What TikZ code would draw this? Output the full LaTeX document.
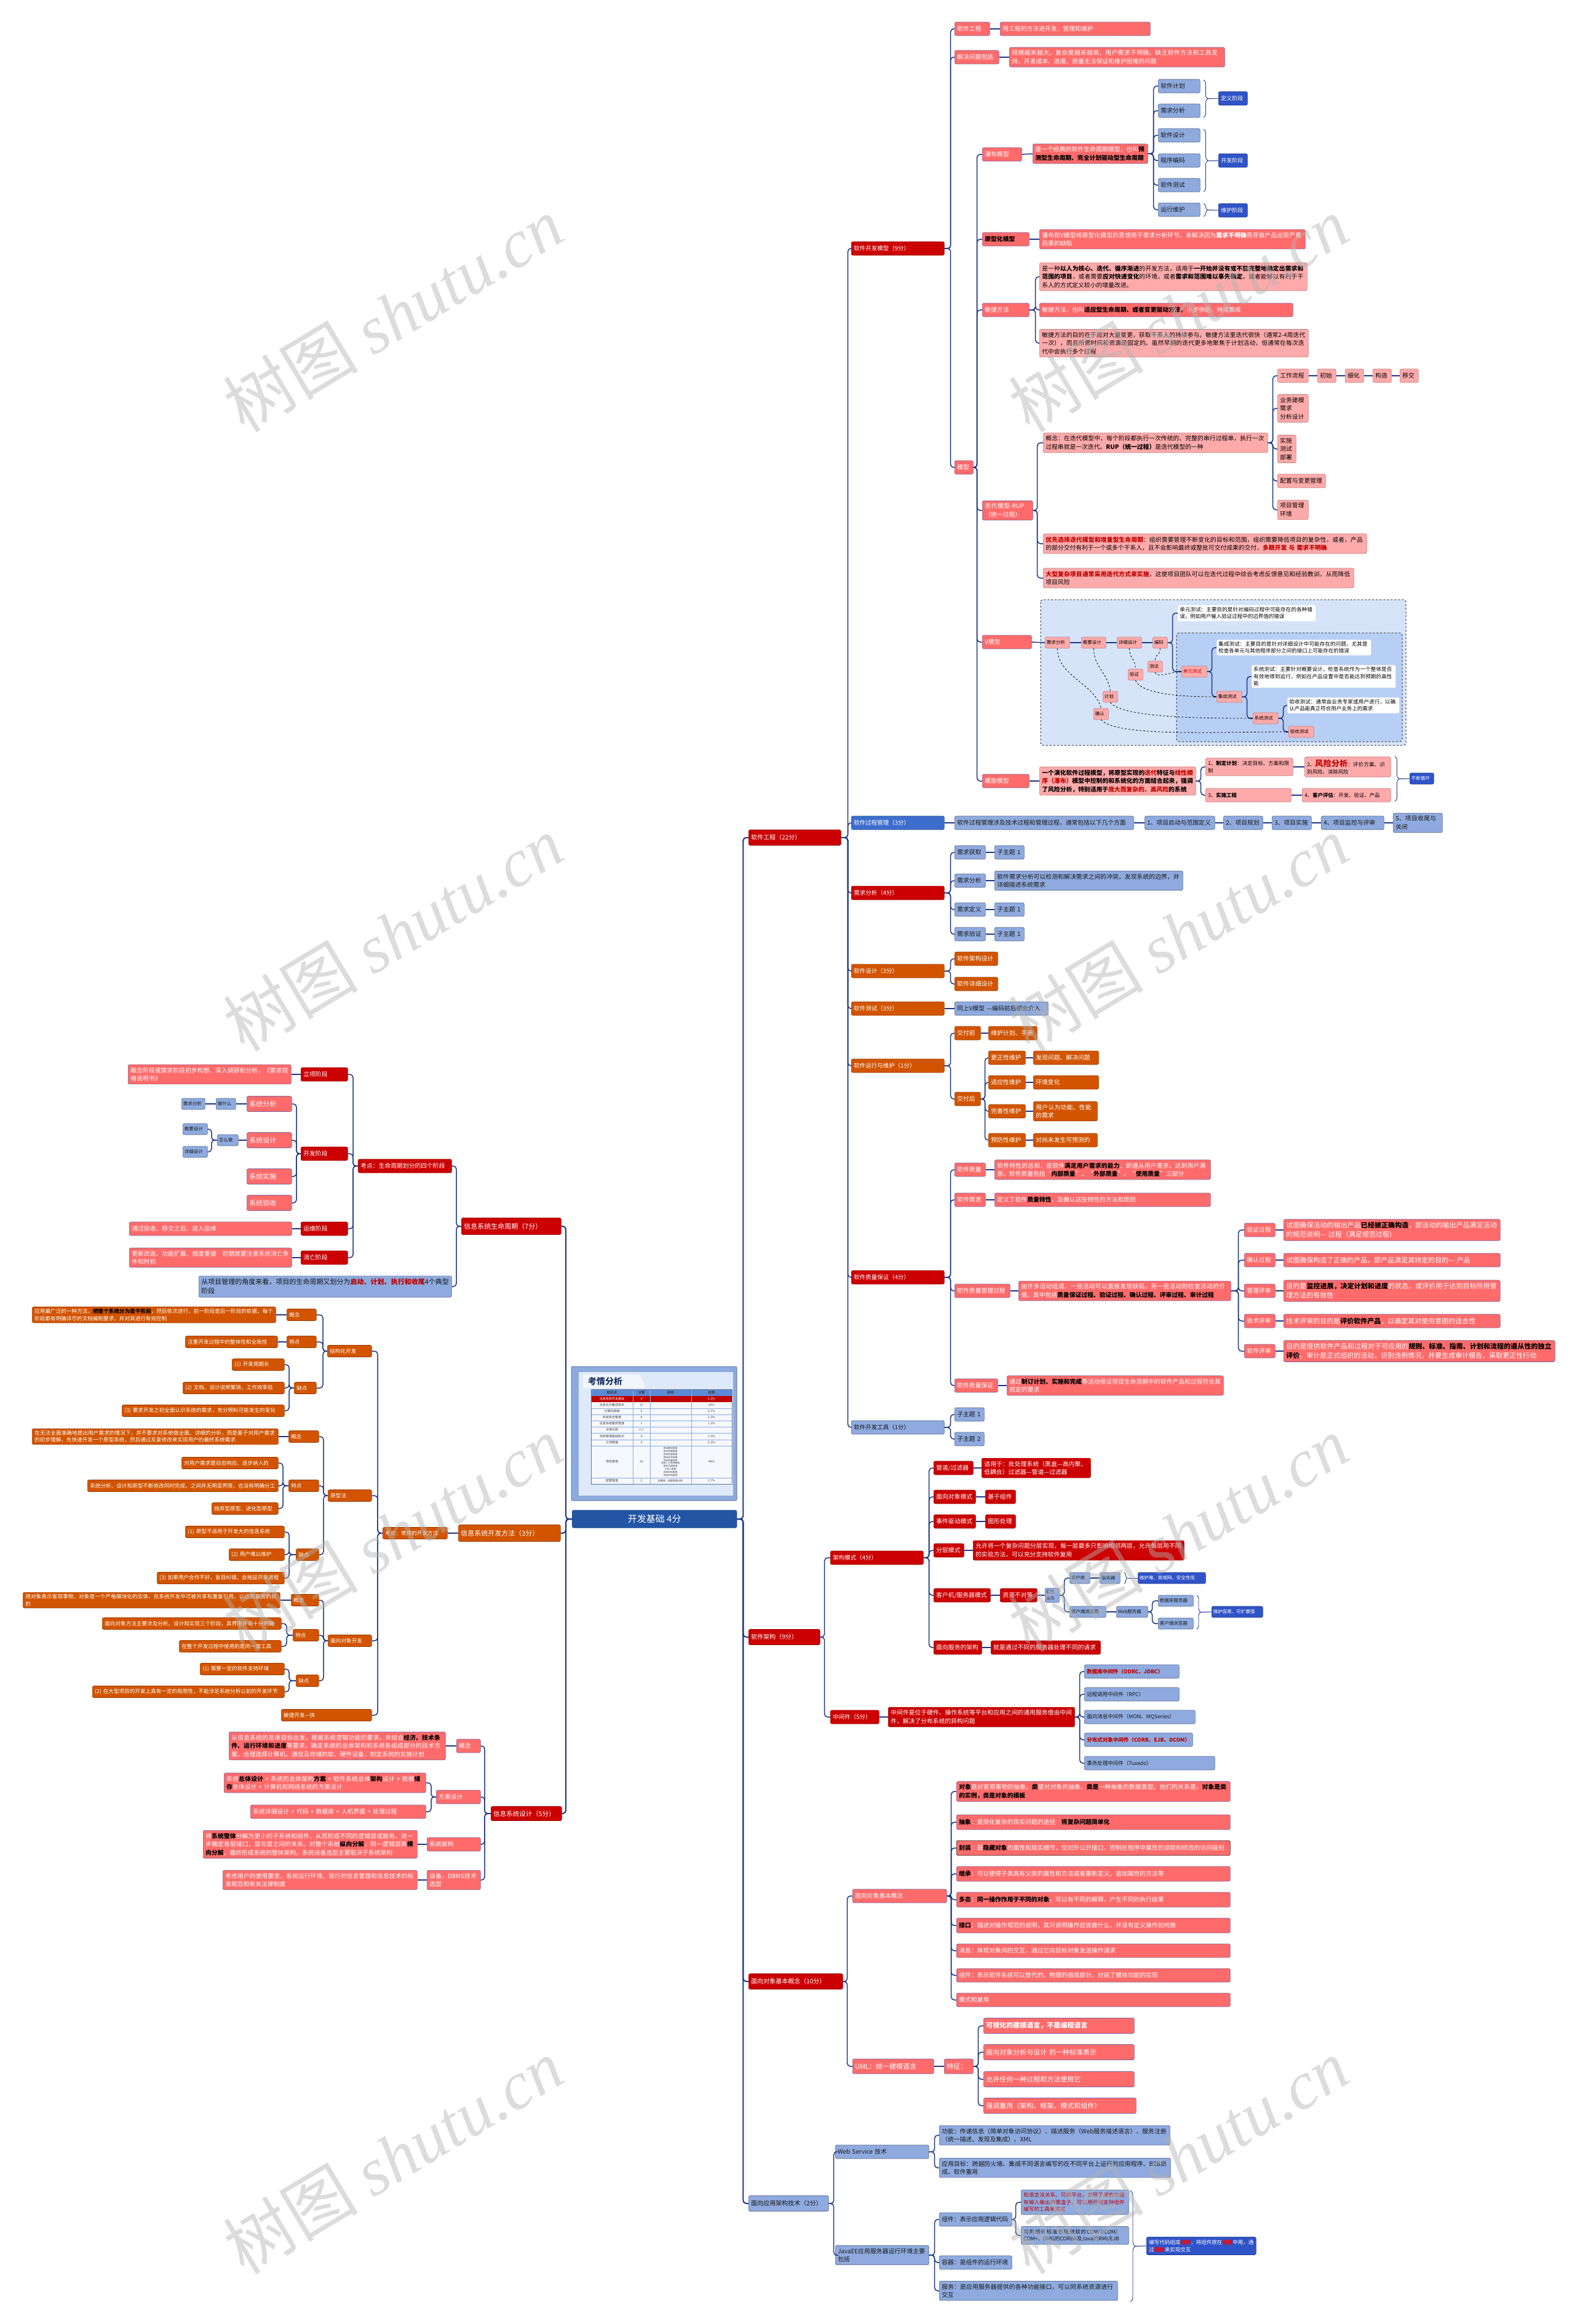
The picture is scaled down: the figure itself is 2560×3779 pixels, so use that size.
\documentclass[tikz,border=0pt]{standalone}
\usepackage{fontspec}
\setmainfont{Noto Sans CJK SC}
\newfontfamily\wmlatin{Liberation Serif}
\usetikzlibrary{arrows.meta, decorations.pathreplacing}
\XeTeXlinebreaklocale "zh"
\XeTeXlinebreakskip=0pt plus 1pt

\definecolor{dred}{RGB}{204,0,0}
\definecolor{salm}{RGB}{255,107,107}
\definecolor{salmb}{RGB}{128,100,160}
\definecolor{pnk}{RGB}{255,170,170}
\definecolor{lblue}{RGB}{142,170,222}
\definecolor{dblue}{RGB}{47,84,200}
\definecolor{pblue}{RGB}{61,110,205}
\definecolor{orng}{RGB}{210,84,0}
\definecolor{navy}{RGB}{35,85,165}
\definecolor{linec}{RGB}{30,55,135}
\definecolor{hred}{RGB}{192,0,0}
\definecolor{vfa}{RGB}{214,228,250}
\definecolor{vfb}{RGB}{184,207,245}
\definecolor{kqf}{RGB}{140,170,222}
\definecolor{kqi}{RGB}{222,233,249}
\definecolor{kqt}{RGB}{31,56,100}
\definecolor{thead}{RGB}{91,139,214}

\newcommand{\kb}[1]{\textbf{\color{black}#1}}
\newcommand{\kr}[1]{\textbf{\color{hred}#1}}

\tikzset{
  nb/.style={rounded corners=2.5pt, anchor=west, align=left, inner xsep=4pt, inner ysep=4.5pt,
    minimum height=22pt, line width=0.7pt, font=\fontsize{9.8}{13.5}\selectfont},
  w/.style={text width=#1-8},
  ft84/.style={font=\fontsize{8.4}{11.5}\selectfont},
  ft85/.style={font=\fontsize{8.5}{11.5}\selectfont},
  ft9/.style={font=\fontsize{9}{12}\selectfont},
  ft95/.style={font=\fontsize{9.5}{13}\selectfont},
  ft10/.style={font=\fontsize{10}{13.5}\selectfont},
  ft105/.style={font=\fontsize{10.5}{14}\selectfont},
  ft11/.style={font=\fontsize{11}{15}\selectfont},
  sm/.style={font=\fontsize{7.5}{10}\selectfont, inner xsep=2.5pt, inner ysep=3pt, minimum height=18pt},
  redbox/.style={nb, fill=dred, draw=dred!75!black, text=white},
  salbox/.style={nb, fill=salm, draw=salmb, text=white},
  pinkbox/.style={nb, fill=pnk, draw=pnk!75!black, text=black},
  bluebox/.style={nb, fill=lblue, draw=lblue!65!black, text=black!90},
  dbluebox/.style={nb, fill=dblue, draw=dblue!70!black, text=white},
  pbluebox/.style={nb, fill=pblue, draw=pblue!70!black, text=white},
  orabox/.style={nb, fill=orng, draw=orng!75!black, text=white},
  oraleft/.style={orabox, font=\fontsize{8.6}{11.5}\selectfont, minimum height=19pt, inner ysep=3pt},
  whitebox/.style={nb, fill=white, draw=none, text=black, font=\fontsize{8.5}{11.5}\selectfont,
    inner xsep=3pt, inner ysep=3pt},
  rootbox/.style={rounded corners=3pt, anchor=west, fill=navy, draw=navy!70!black, text=white,
    minimum width=268pt, minimum height=29pt, inner sep=0pt, font=\fontsize{15}{17}\selectfont},
  ln/.style={draw=linec, line width=1.5pt, rounded corners=5pt},
  lk/.style={to path={-- ++(#1,0) |- (\tikztotarget)}},
  lk/.default=8,
  brc/.style={draw=linec, line width=0.9pt, decorate, decoration={brace, amplitude=7pt}},
  vdash/.style={draw=black, dashed, line width=0.8pt},
  vframe/.style={draw=black!80, dashed, line width=1pt, rounded corners=4pt},
  tcell/.style={font=\fontsize{5}{6}\selectfont, inner sep=0pt, text=black!75},
  wmark/.style={rotate=31, text=black!30, opacity=0.45, inner sep=0pt, font=\fontsize{110}{110}\selectfont},
}

\begin{document}
\begin{tikzpicture}[x=1pt,y=-1pt]
\fill[white] (0,0) rectangle (2560,3779);
\useasboundingbox (0,0) rectangle (2560,3779);

% V model frames
\draw[vframe, fill=vfa] (1692,975) rectangle (2286,1212);
\draw[vframe, fill=vfb] (1913,1029) rectangle (2280,1206);

% exam table picture
\draw[draw=kqf!75!black, fill=kqf, line width=1pt, rounded corners=2pt] (929,2222) rectangle (1198,2440);
\fill[kqi] (941,2231) rectangle (1192,2432);
\fill[white, opacity=.6] (948,2235) -- (1040,2235) -- (1050,2257) -- (948,2257) -- cycle;
\node[anchor=west, inner sep=0pt, text=kqt, font=\fontsize{14}{16}\selectfont\bfseries] (kqtitle) at (956,2246) {考情分析};
\fill[thead] (961,2259) rectangle (1190,2270);
\fill[red!75!black] (961,2270) rectangle (1190,2280);
\fill[white!70!kqi] (961,2280) rectangle (1190,2413);
\foreach \yy in {2290,2300,2310,2320,2330,2341,2351,2403}
  \draw[kqf, line width=0.4pt] (961,\yy) -- (1190,\yy);
\foreach \xx in {1029,1057,1124}
  \draw[kqf, line width=0.4pt] (\xx,2259) -- (\xx,2413);
\draw[kqf!70!black, line width=0.5pt] (961,2259) rectangle (1190,2413);
\node[tcell, font=\fontsize{5.5}{6}\selectfont\bfseries] (hk) at (995,2264.5) {知识点};
\node[tcell, font=\fontsize{5.5}{6}\selectfont\bfseries] (hs) at (1043,2264.5) {分数};
\node[tcell, font=\fontsize{5.5}{6}\selectfont\bfseries] (hx) at (1090,2264.5) {说明};
\node[tcell, font=\fontsize{5.5}{6}\selectfont\bfseries] (hp) at (1157,2264.5) {比例};
\node[tcell, text=white] (tk1) at (995,2275) {信息系统开发基础};
\node[tcell, text=white] (ts1) at (1043,2275) {4};
\node[tcell, text=white] (tp1) at (1157,2275) {5.3\%};
\foreach \yy/\cA/\cB/\cC [count=\i from 2] in {2285/信息化与集成技术/15/20\%, 2295/计算机网络/5/6.7\%,
    2305/系统安全管理/4/5.3\%, 2315/信息系统服务管理/1/1.3\%, 2325/法律法规/0-1/{},
    2336/项目管理基础知识/4/5.3\%, 2346/立项管理/4/5.3\%, 2377/项目管理/36/48\%, 2408/配置管理/2/2.7\%} {
  \node[tcell] (tk\i) at (995,\yy) {\cA};
  \node[tcell] (ts\i) at (1043,\yy) {\cB};
  \node[tcell] (tp\i) at (1157,\yy) {\cC};
}
\node[tcell, align=center, font=\fontsize{3.8}{4.9}\selectfont] (tx9) at (1090,2377)
  {项目整体管理\\项目范围管理\\项目进度管理\\项目成本管理\\项目质量管理\\项目人力资源管理\\项目沟通管理\\干系人管理\\项目风险管理\\项目采购管理};
\node[tcell, font=\fontsize{4}{5}\selectfont] (tx10) at (1090,2408) {配置库、配置管理过程};

% root
\node[rootbox] (root) at (930,2470) {开发基础 4分};

% right first level
\node[redbox, ft10, w=150, minimum height=25pt] (se) at (1217,1362) {软件工程（22分）};
\node[redbox, ft10, w=116, minimum height=25pt] (arch) at (1217,2662) {软件架构（9分）};
\node[redbox, ft10, w=153, minimum height=25pt] (oo) at (1217,3222) {面向对象基本概念（10分）};
\node[bluebox, ft10, w=130, minimum height=25pt] (app) at (1217,3583) {面向应用架构技术（2分）};

% software engineering
\node[redbox, ft95, w=151] (sdm) at (1384,404) {软件开发模型（9分）};
\node[pbluebox, ft95, w=151] (spm) at (1384,1338) {软件过程管理（3分）};
\node[redbox, ft95, w=151] (ra) at (1384,1452) {需求分析（4分）};
\node[orabox, ft95, w=151] (sd) at (1384,1579) {软件设计（3分）};
\node[orabox, ft95, w=151] (st) at (1384,1640) {软件测试（3分）};
\node[orabox, ft95, w=151] (som) at (1384,1733) {软件运行与维护（1分）};
\node[redbox, ft95, w=151] (sqa) at (1384,2077) {软件质量保证（4分）};
\node[bluebox, ft95, w=151] (sdt) at (1384,2321) {软件开发工具（1分）};

\node[salbox, w=57] (a1) at (1552,47) {软件工程};
\node[salbox, w=244] (a1t) at (1626,47) {用工程的方法进开发、管理和维护};
\node[salbox, w=72] (a2) at (1552,93) {解决问题包括};
\node[salbox, w=350] (a2t) at (1641,93) {规模越来越大，复杂度越来越高，用户需求不明确，缺乏软件方法和工具支持，开发成本、进度、质量无法保证和维护困难的问题};
\node[salbox, w=30] (mx) at (1552,760) {模型};

\node[salbox, w=64] (wf) at (1597,251) {瀑布模型};
\node[salbox, w=76] (pt) at (1597,389) {\kb{原型化模型}};
\node[salbox, w=76] (ag) at (1597,504) {敏捷方法};
\node[salbox, w=82] (it) at (1597,830) {迭代模型-RUP（统一过程）};
\node[salbox, w=80] (vm) at (1597,1044) {V模型};
\node[salbox, w=76] (sp) at (1597,1270) {螺旋模型};

% waterfall
\node[salbox, w=187] (wft) at (1679,250) {是一个经典的软件生命周期模型，也叫\kb{预测型生命周期、完全计划驱动型生命周期}};
\foreach \n/\yy/\t in {w1/140/软件计划, w2/180/需求分析, w3/220/软件设计, w4/261/程序编码, w5/301/软件测试, w6/341/运行维护}
  \node[bluebox, w=68] (\n) at (1883,\yy) {\t};
\node[dbluebox, ft9, w=47] (d1) at (1981,160) {定义阶段};
\node[dbluebox, ft9, w=47] (d2) at (1981,261) {开发阶段};
\node[dbluebox, ft9, w=47] (d3) at (1981,342) {维护阶段};

% prototype, agile
\node[salbox, w=432] (ptt) at (1690,389) {瀑布和V模型将原型化模型的思想用于需求分析环节，来解决因为\textbf{需求不明确}而导致产品出现严重后果的缺陷};
\node[pinkbox, w=435] (ag1) at (1690,450) {是一种\textbf{以人为核心、迭代、循序渐进}的开发方法，适用于\textbf{一开始并没有或不能完整地确定出需求和范围的项目}，或者需要\textbf{应对快速变化}的环境，或者\textbf{需求和范围难以事先确定}，或者能够以有利于干系人的方式定义较小的增量改进。};
\node[salbox, w=412] (ag2) at (1690,504) {敏捷方法，也叫\kb{适应型生命周期、或者变更驱动方法。}小步快跑、持续集成};
\node[pinkbox, w=437] (ag3) at (1690,558) {敏捷方法的目的在于应对大量变更，获取干系人的持续参与。敏捷方法里迭代很快（通常2-4周迭代一次），而且所需时间和资源是固定的。虽然早期的迭代更多地聚焦于计划活动，但通常在每次迭代中会执行多个过程};

% iterative RUP
\node[pinkbox, w=365] (it1) at (1696,720) {概念：在迭代模型中，每个阶段都执行一次传统的、完整的串行过程串，执行一次过程串就是一次迭代。\textbf{RUP（统一过程）}是迭代模型的一种};
\node[pinkbox, w=526] (it2) at (1696,884) {\kr{优先选择迭代模型和增量型生命周期}：组织需要管理不断变化的目标和范围，组织需要降低项目的复杂性，或者，产品的部分交付有利于一个或多个干系人，且不会影响最终或整批可交付成果的交付，\kr{多期开发 与 需求不明确}};
\node[pinkbox, w=505] (it3) at (1696,940) {\kr{大型复杂项目通常采用迭代方式来实施}，这使项目团队可以在迭代过程中综合考虑反馈意见和经验教训，从而降低项目风险};
\node[pinkbox, w=50] (r1) at (2077,611) {工作流程};
\node[pinkbox, w=30] (r1a) at (2142,611) {初始};
\node[pinkbox, w=30] (r1b) at (2187,611) {细化};
\node[pinkbox, w=30] (r1c) at (2232,611) {构造};
\node[pinkbox, w=30] (r1d) at (2276,611) {移交};
\node[pinkbox, w=50] (r2) at (2077,664) {业务建模\\需求\\分析设计};
\node[pinkbox, w=30] (r3) at (2077,730) {实施\\测试\\部署};
\node[pinkbox, w=78] (r4) at (2077,782) {配置与变更管理};
\node[pinkbox, w=50] (r5) at (2077,829) {项目管理\\环境};

% V model
\node[pinkbox, sm, w=43] (v1) at (1699,1045) {需求分析};
\node[pinkbox, sm, w=43] (v2) at (1758,1045) {概要设计};
\node[pinkbox, sm, w=43] (v3) at (1816,1045) {详细设计};
\node[pinkbox, sm, w=27] (v4) at (1874,1045) {编码};
\node[whitebox, w=226] (vt1) at (1915,997) {单元测试：主要目的是针对编码过程中可能存在的各种错误，例如用户输入验证过程中的边界值的错误};
\node[whitebox, w=253] (vt2) at (1978,1053) {集成测试：主要目的是针对详细设计中可能存在的问题，尤其是检查各单元与其他程序部分之间的接口上可能存在的错误};
\node[whitebox, w=236] (vt3) at (2035,1100) {系统测试：主要针对概要设计，检查系统作为一个整体是否有效地得到运行，例如在产品设置中是否能达到预期的高性能};
\node[whitebox, w=184] (vt4) at (2093,1147) {验收测试：通常由业务专家或用户进行，以确认产品能真正符合用户业务上的需求};
\node[pinkbox, sm, w=44, text=hred] (t1) at (1921,1092) {单元测试};
\node[pinkbox, sm, w=44] (t2) at (1978,1133) {集成测试};
\node[pinkbox, sm, w=44] (t3) at (2037,1168) {系统测试};
\node[pinkbox, sm, w=44] (t4) at (2095,1190) {验收测试};
\node[pinkbox, sm, w=27] (va) at (1866,1084) {测试};
\node[pinkbox, sm, w=27] (vb) at (1834,1097) {验证};
\node[pinkbox, sm, w=27] (vc) at (1793,1133) {计划};
\node[pinkbox, sm, w=27] (vd) at (1778,1161) {确认};

% spiral
\node[pinkbox, w=254] (spt) at (1690,1270) {\textbf{一个演化软件过程模型，将原型实现的\kr{迭代}特征与\kr{线性顺序（瀑布）}模型中控制的和系统化的方面结合起来，强调了风险分析，特别适用于\kr{庞大而复杂的、高风险}的系统}};
\node[pinkbox, ft84, w=142] (sp1) at (1960,1247) {1、\textbf{制定计划}：决定目标、方案和限制};
\node[pinkbox, ft84, w=140] (sp2) at (2121,1247) {2、\kr{\fontsize{13}{14}\selectfont 风险分析}：评价方案、识别风险、消除风险};
\node[pinkbox, ft84, w=139] (sp3) at (1960,1293) {3、\textbf{实施工程}};
\node[pinkbox, ft84, w=144] (sp4) at (2117,1293) {4、\textbf{客户评估}：开发、验证、产品};
\node[dbluebox, sm, w=42] (sloop) at (2292,1266) {不断循环};

% process management
\node[bluebox, w=291] (p0) at (1552,1338) {软件过程管理涉及技术过程和管理过程，通常包括以下几个方面};
\node[bluebox, w=114] (p1) at (1861,1338) {1、项目启动与范围定义};
\node[bluebox, w=64] (p2) at (1989,1338) {2、项目规划};
\node[bluebox, w=64] (p3) at (2068,1338) {3、项目实施};
\node[bluebox, w=102] (p4) at (2148,1338) {4、项目监控与评审};
\node[bluebox, w=80] (p5) at (2265,1338) {5、项目收尾与关闭};

% requirements
\node[bluebox, w=50] (q1) at (1552,1386) {需求获取};
\node[bluebox, w=48] (q1a) at (1617,1386) {子主题 1};
\node[bluebox, w=50] (q2) at (1552,1432) {需求分析};
\node[bluebox, w=306] (q2a) at (1617,1432) {软件需求分析可以检测和解决需求之间的冲突，发现系统的边界，并详细描述系统需求};
\node[bluebox, w=50] (q3) at (1552,1479) {需求定义};
\node[bluebox, w=48] (q3a) at (1617,1479) {子主题 1};
\node[bluebox, w=50] (q4) at (1552,1519) {需求验证};
\node[bluebox, w=48] (q4a) at (1617,1519) {子主题 1};

% design, test, maintenance
\node[orabox, w=70] (sd1) at (1552,1559) {软件架构设计};
\node[orabox, w=70] (sd2) at (1552,1600) {软件详细设计};
\node[bluebox, w=152] (st1) at (1552,1640) {同上V模型 ---编码前后都会介入};
\node[orabox, w=42] (m1) at (1552,1680) {交付前};
\node[orabox, w=79] (m1a) at (1607,1680) {维护计划、手册};
\node[orabox, w=42] (m2) at (1552,1787) {交付后};
\node[orabox, w=60] (m21) at (1607,1720) {更正性维护};
\node[orabox, w=106] (m21a) at (1680,1720) {发现问题、解决问题};
\node[orabox, w=60] (m22) at (1607,1760) {适应性维护};
\node[orabox, w=106] (m22a) at (1680,1760) {环境变化};
\node[orabox, w=60] (m23) at (1607,1807) {完善性维护};
\node[orabox, w=104] (m23a) at (1680,1807) {用户认为功能、性能的需求};
\node[orabox, w=60] (m24) at (1607,1854) {预防性维护};
\node[orabox, w=104] (m24a) at (1680,1854) {对尚未发生可预测的};

% quality
\node[salbox, w=50] (k1) at (1552,1902) {软件质量};
\node[salbox, w=351] (k1t) at (1617,1902) {软件特性的总和，是软件\kb{满足用户需求的能力}，即遵从用户需求，达到用户满意。软件质量包括“\kb{内部质量}”、“\kb{外部质量}”、“\kb{使用质量}”三部分};
\node[salbox, w=50] (k2) at (1552,1951) {软件需求};
\node[salbox, w=351] (k2t) at (1617,1951) {定义了软件\kb{质量特性}，及确认这些特性的方法和原则};
\node[salbox, w=90] (k3) at (1552,2099) {软件质量管理过程};
\node[salbox, w=345] (k3t) at (1656,2099) {由许多活动组成，一些活动可以直接发现缺陷，另一些活动则检查活动的价值。其中包括\kb{质量保证过程、验证过程、确认过程、评审过程、审计过程}};
\node[salbox, w=50] (k31) at (2023,2000) {验证过程};
\node[salbox, ft11, w=352] (k31t) at (2087,2000) {试图确保活动的输出产品\kb{已经被正确构造}，即活动的输出产品满足活动的规范说明--- 过程（满足规范过程）};
\node[salbox, w=50] (k32) at (2023,2049) {确认过程};
\node[salbox, ft11, w=352] (k32t) at (2087,2049) {试图确保构造了正确的产品，即产品满足其特定的目的--- 产品};
\node[salbox, w=50] (k33) at (2023,2099) {管理评审};
\node[salbox, ft11, w=352] (k33t) at (2087,2099) {目的是\kb{监控进展，决定计划和进度}的状态，或评价用于达到目标所用管理方法的有效性};
\node[salbox, w=50] (k34) at (2023,2148) {技术评审};
\node[salbox, ft11, w=352] (k34t) at (2087,2148) {技术评审的目的是\kb{评价软件产品}，以确定其对使用意图的适合性};
\node[salbox, w=50] (k35) at (2023,2197) {软件评审};
\node[salbox, ft11, w=441] (k35t) at (2087,2197) {目的是提供软件产品和过程对于可应用的\kb{规则、标准、指南、计划和流程的遵从性的独立评价}。审计是正式组织的活动，识别违例情况，并要生成审计报告，采取更正性行动};
\node[salbox, w=70] (k4) at (1552,2253) {软件质量保证};
\node[salbox, w=352] (k4t) at (1637,2253) {通过\kb{制订计划、实施和完成}等活动保证项目生命周期中的软件产品和过程符合其规定的要求};
\node[bluebox, w=48] (z1) at (1552,2300) {子主题 1};
\node[bluebox, w=48] (z2) at (1552,2340) {子主题 2};

% architecture
\node[redbox, ft95, w=151] (am) at (1350,2533) {架构模式（4分）};
\node[redbox, w=64] (am1) at (1518,2387) {管道/过滤器};
\node[redbox, w=177] (am1t) at (1596,2387) {适用于：批处理系统（黑盒---高内聚、低耦合）过滤器---管道---过滤器};
\node[redbox, w=68] (am2) at (1518,2434) {面向对象模式};
\node[redbox, w=49] (am2a) at (1602,2434) {基于组件};
\node[redbox, w=68] (am3) at (1518,2474) {事件驱动模式};
\node[redbox, w=49] (am3a) at (1602,2474) {图形处理};
\node[redbox, w=49] (am4) at (1518,2521) {分层模式};
\node[redbox, w=343] (am4t) at (1582,2521) {允许将一个复杂问题分层实现，每一层最多只影响相邻两层，允许每层用不同的实验方法，可以充分支持软件复用};
\node[redbox, w=92] (am5) at (1518,2594) {客户机/服务器模式};
\node[redbox, w=60] (am5a) at (1626,2594) {资源不对等};
\node[bluebox, sm, w=26] (cs) at (1699,2594) {C/S\\B/S};
\node[bluebox, sm, w=36] (c1) at (1739,2566) {客户端};
\node[bluebox, sm, w=36] (c2) at (1788,2566) {服务器};
\node[dbluebox, sm, w=113] (c2s) at (1850,2566) {维护难、局域网、安全性低};
\node[bluebox, sm, w=62] (c3) at (1739,2621) {客户端浏览器};
\node[bluebox, sm, w=54] (c4) at (1815,2621) {Web服务器};
\node[bluebox, sm, w=60] (c5) at (1883,2603) {数据库服务器};
\node[bluebox, sm, w=60] (c6) at (1883,2640) {客户端浏览器};
\node[dbluebox, sm, w=86] (c6s) at (1970,2621) {维护容易、可扩展强};
\node[redbox, w=78] (am6) at (1518,2679) {面向服务的架构};
\node[redbox, w=178] (am6a) at (1611,2679) {就是通过不同的服务器处理不同的请求};
\node[redbox, ft95, w=79] (mw) at (1350,2792) {中间件（5分）};
\node[redbox, w=303] (mwt) at (1444,2792) {中间件是位于硬件、操作系统等平台和应用之间的通用服务借由中间件，解决了分布系统的异构问题};
\node[bluebox, ft85, w=154] (mw1) at (1763,2718) {\kr{数据库中间件（ODBC、JDBC）}};
\node[bluebox, ft85, w=154] (mw2) at (1763,2755) {远程调用中间件（RPC）};
\node[bluebox, ft85, w=180] (mw3) at (1763,2792) {面向消息中间件（MOM、MQSeries）};
\node[bluebox, ft85, w=176] (mw4) at (1763,2829) {\kr{分布式对象中间件（CORB、EJB、DCOM）}};
\node[bluebox, ft85, w=212] (mw5) at (1763,2867) {事务处理中间件（Tuxedo）};

% object oriented
\node[salbox, w=153] (ob) at (1386,3083) {面向对象基本概念};
\node[salbox, w=445] (o1) at (1555,2913) {\kb{对象}是对客观事物的抽象，\kb{类}是对对象的抽象。\kb{类是}一种抽象的数据类型。他们的关系是，\kb{对象是类的实例，类是对象的模板}};
\node[salbox, w=445, minimum height=24pt] (o2) at (1555,2963) {\kb{抽象}：是简化复杂的现实问题的途径\quad \kb{将复杂问题简单化}};
\node[salbox, w=445, minimum height=24pt, draw=black!85] (o3) at (1555,3005) {\kb{封装}：是\kb{隐藏对象}的属性和现实细节，仅对外公开接口，控制在程序中属性的读取和修改的访问级别};
\node[salbox, w=445, minimum height=24pt] (o4) at (1555,3047) {\kb{继承}：可以使得子类具有父类的属性和方法或者重新定义、追加属性的方法等};
\node[salbox, w=445, minimum height=24pt] (o5) at (1555,3089) {\kb{多态}：\kb{同一操作作用于不同的对象}，可以有不同的解释，产生不同的执行结果};
\node[salbox, w=445, minimum height=24pt] (o6) at (1555,3131) {\kb{接口}：描述对操作规范的说明，其只说明操作应该做什么，并没有定义操作如何做};
\node[salbox, w=445] (o7) at (1555,3172) {消息：体现对象间的交互，通过它向目标对象发送操作请求};
\node[salbox, w=445] (o8) at (1555,3212) {组件：表示软件系统可以替代的、物理的组成部分，封装了模块功能的实现};
\node[salbox, w=445] (o9) at (1555,3252) {模式和复用};
\node[salbox, ft11, w=132, minimum height=24pt] (uml) at (1386,3360) {UML：统一建模语言};
\node[salbox, ft11, w=47, minimum height=24pt] (uf) at (1535,3360) {特征：};
\node[salbox, ft11, w=245, minimum height=25pt] (um1) at (1599,3294) {\textbf{可视化的建模语言，不是编程语言}};
\node[salbox, ft11, w=245, minimum height=25pt] (um2) at (1599,3337) {面向对象分析与设计 的一种标准表示};
\node[salbox, ft11, w=245, minimum height=25pt] (um3) at (1599,3381) {允许任何一种过程和方法使用它};
\node[salbox, ft11, w=248, minimum height=25pt] (um4) at (1599,3424) {强调重用（架构、框架、模式和组件）};

% application architecture
\node[bluebox, w=152] (ws) at (1358,3499) {Web Service 技术};
\node[bluebox, w=375] (ws1) at (1527,3472) {功能：传递信息（简单对象访问协议）、描述服务（Web服务描述语言）、服务注册（统一描述、发现及集成）、XML};
\node[bluebox, w=376] (ws2) at (1527,3525) {应用目标：跨越防火墙、集成不同语言编写的在不同平台上运行的应用程序、B2B集成、软件重用};
\node[bluebox, w=152] (je) at (1358,3667) {JavaEE应用服务器运行环境主要包括};
\node[bluebox, w=118] (j1) at (1527,3609) {组件：表示应用逻辑代码};
\node[bluebox, ft85, w=175, text=hred] (j11) at (1660,3581) {和语言没关系、可跨平台，实现了某些功能有输入输出的黑盒子，可以用任何支持组件编写的工具来完成};
\node[bluebox, ft85, w=175] (j12) at (1660,3635) {常用组件标准包括微软的COM/DCOM/COM+、OMG的CORBA及Java的RMI/EJB};
\node[bluebox, w=118] (j2) at (1527,3679) {容器：是组件的运行环境};
\node[bluebox, w=290] (j3) at (1527,3725) {服务：是应用服务器提供的各种功能接口，可以同系统资源进行交互};
\node[dbluebox, ft85, w=178] (jsum) at (1864,3652) {编写代码组成{\color{red}\textbf{组件}}，将组件放在{\color{red}\textbf{容器}}中用，通过{\color{red}\textbf{服务}}来实现交互};

% left: life cycle
\node[redbox, ft11, w=162, minimum height=27pt] (lc) at (750,1994) {信息系统生命周期（7分）};
\node[redbox, w=152] (lkd) at (582,1896) {考点：生命周期划分的四个阶段};
\node[redbox, w=76] (l1) at (489,1747) {立项阶段};
\node[salbox, w=265] (l1t) at (208,1747) {概念阶段或需求阶段初步构想、深入调研和分析，《需求规格说明书》};
\node[redbox, w=76] (l2) at (489,1876) {开发阶段};
\node[salbox, ft11, w=73, minimum height=25pt] (l21) at (401,1795) {系统分析};
\node[bluebox, sm, w=35] (l21a) at (351,1795) {做什么};
\node[bluebox, sm, w=41] (l21b) at (295,1795) {需求分析};
\node[salbox, ft11, w=73, minimum height=25pt] (l22) at (401,1854) {系统设计};
\node[bluebox, sm, w=37] (l22a) at (353,1854) {怎么做};
\node[bluebox, sm, w=43] (l22b) at (297,1836) {概要设计};
\node[bluebox, sm, w=43] (l22c) at (297,1873) {详细设计};
\node[salbox, ft11, w=73, minimum height=25pt] (l23) at (401,1913) {系统实施};
\node[salbox, ft11, w=73, minimum height=25pt] (l24) at (401,1956) {系统验收};
\node[redbox, w=76] (l3) at (489,1998) {运维阶段};
\node[salbox, w=264] (l3t) at (210,1998) {通过验收、移交之后，进入运维};
\node[redbox, w=76] (l4) at (489,2045) {消亡阶段};
\node[salbox, w=264] (l4t) at (210,2045) {更新改造、功能扩展、报废重建\quad 初期就要注意系统消亡条件和时机};
\node[bluebox, ft11, w=411] (lp) at (323,2092) {从项目管理的角度来看，项目的生命周期又划分为\kr{启动、计划、执行和收尾}4个典型阶段};

% left: development methods
\node[orabox, ft11, w=166, minimum height=27pt] (ld) at (745,2493) {信息系统开发方法（3分）};
\node[oraleft, w=105] (lm) at (622,2493) {考点：常用的开发方法};
\node[oraleft, w=72] (s1) at (532,2197) {结构化开发};
\node[oraleft, w=48] (s11) at (466,2138) {概念};
\node[oraleft, w=396] (s11t) at (52,2138) {应用最广泛的一种方法，\kb{把整个系统分为若干阶段}，然后依次进行，前一阶段是后一阶段的依据，每个阶段都有明确详尽的文档编制要求，并对其进行有效控制};
\node[oraleft, w=48] (s12) at (466,2182) {特点};
\node[oraleft, w=150] (s12t) at (301,2182) {注重开发过程中的整体性和全局性};
\node[oraleft, w=36] (s13) at (478,2257) {缺点};
\node[oraleft, w=85] (s131) at (377,2219) {(1) 开发周期长};
\node[oraleft, w=165] (s132) at (297,2257) {(2) 文档、设计说明繁琐，工作效率低};
\node[oraleft, w=264] (s133) at (198,2294) {(3) 要求开发之初全面认识系统的需求，充分预料可能发生的变化};
\node[oraleft, w=71] (s2) at (533,2432) {原型法};
\node[oraleft, w=49] (s21) at (469,2336) {概念};
\node[oraleft, w=400] (s21t) at (52,2336) {在无法全面准确地提出用户需求的情况下，并不要求对系统做全面、详细的分析，而是基于对用户需求的初步理解，先快速开发一个原型系统，然后通过反复修改来实现用户的最终系统需求};
\node[oraleft, w=49] (s22) at (469,2416) {特点};
\node[oraleft, w=157] (s221) at (295,2379) {对用户需求是动态响应、逐步纳入的};
\node[oraleft, w=310] (s222) at (142,2416) {系统分析、设计和原型不断修改同时完成，之间并无明显界限，也没有明确分工};
\node[oraleft, w=108] (s223) at (344,2453) {抛弃型原型、进化型原型};
\node[oraleft, w=37] (s23) at (481,2528) {缺点};
\node[oraleft, w=161] (s231) at (301,2491) {(1) 原型不适用于开发大的信息系统};
\node[oraleft, w=90] (s232) at (372,2528) {(2) 用户难以维护};
\node[oraleft, w=207] (s233) at (255,2566) {(3) 如果用户合作不好，盲目纠错，会拖延开发进程};
\node[oraleft, w=71] (s3) at (533,2668) {面向对象开发};
\node[oraleft, w=45] (s31) at (473,2602) {概念};
\node[oraleft, w=418] (s31t) at (37,2602) {用对象表示客观事物，对象是一个严格模块化的实体，在系统开发中可被共享和重复引用，以达到复用的目的};
\node[oraleft, w=42] (s32) at (476,2659) {特点};
\node[oraleft, w=291] (s321) at (166,2640) {面向对象方法主要涉及分析、设计和实现三个阶段，其界限并非十分明确};
\node[oraleft, w=166] (s322) at (291,2677) {在整个开发过程中使用的是同一套工具};
\node[oraleft, w=37] (s33) at (481,2733) {缺点};
\node[oraleft, w=137] (s331) at (325,2714) {(1) 需要一定的软件支持环境};
\node[oraleft, w=312] (s332) at (150,2751) {(2) 在大型项目的开发上具有一定的局限性，不能涉足系统分析以前的开发环节};
\node[oraleft, w=147] (s4) at (457,2789) {敏捷开发---快};

% left: system design
\node[redbox, ft105, w=115, minimum height=23pt] (lsd) at (798,2949) {信息系统设计（5分）};
\node[salbox, w=39] (g1) at (742,2839) {概念};
\node[salbox, w=352] (g1t) at (372,2839) {从信息系统的总体目标出发，根据系统逻辑功能的要求，并结合\kb{经济、技术条件、运行环境和进度}等要求，确定系统的总体架构和系统各组成部分的技术方案，合理选择计算机、通信及存储的软、硬件设备，制定系统的实施计划};
\node[salbox, w=72] (g2) at (709,2922) {方案设计};
\node[salbox, w=328] (g21) at (364,2899) {系统\kb{总体设计} = 系统的总体架构\kb{方案} + 软件系统总体\kb{架构}设计 + 数据\kb{储存}总体设计 + 计算机和网络系统的方案设计};
\node[salbox, w=285] (g22) at (407,2946) {系统详细设计 = 代码 + 数据库 + 人机界面 + 处理过程};
\node[salbox, w=87] (g3) at (694,2999) {系统架构};
\node[salbox, w=348] (g3t) at (330,2999) {将\kb{系统整体}分解为更小的子系统和组件，从而形成不同的逻辑层或服务。进一步确定各层接口，层与层之间的关系。对整个系统\kb{纵向分解}，同一逻辑层再\kb{横向分解}，最终形成系统的整体架构。系统设备选型主要取决于系统架构};
\node[salbox, w=87] (g4) at (694,3057) {设备、DBMS技术选型};
\node[salbox, w=316] (g4t) at (362,3057) {考虑用户的使用要求、系统运行环境、现行的信息管理和信息技术的标准规范和有关法律制度};

% ---------------- connectors
\foreach \c in {se,arch,oo,app} \draw[ln, line width=2pt, lk=10] (root.east) to (\c.west);
\foreach \c in {lc,ld,lsd} \draw[ln, line width=2pt, lk=-10] (root.west) to (\c.east);

\foreach \c in {sdm,spm,ra,sd,st,som,sqa,sdt} \draw[ln, lk=11] (se.east) to (\c.west);
\foreach \c in {a1,a2,mx} \draw[ln, lk=10] (sdm.east) to (\c.west);
\draw[ln] (a1.east) -- (a1t.west);
\draw[ln] (a2.east) -- (a2t.west);
\foreach \c in {wf,pt,ag,it,vm,sp} \draw[ln, lk=6] (mx.east) to (\c.west);
\draw[ln] (wf.east) -- (wft.west);
\foreach \c in {w1,w2,w3,w4,w5,w6} \draw[ln, lk=9] (wft.east) to (\c.west);
\draw[brc] (1957,130) -- (1957,191);
\draw[brc] (1957,210) -- (1957,312);
\draw[brc] (1957,331) -- (1957,352);
\coordinate (bw1) at (1964,160.5);
\coordinate (bw2) at (1964,261);
\coordinate (bw3) at (1964,341.5);
\draw[ln, line width=1pt] (bw1) -- (d1.west);
\draw[ln, line width=1pt] (bw2) -- (d2.west);
\draw[ln, line width=1pt] (bw3) -- (d3.west);
\draw[ln] (pt.east) -- (ptt.west);
\foreach \c in {ag1,ag2,ag3} \draw[ln, lk=10] (ag.east) to (\c.west);
\foreach \c in {it1,it2,it3} \draw[ln, lk=7] (it.east) to (\c.west);
\foreach \c in {r1,r2,r3,r4,r5} \draw[ln, lk=8] (it1.east) to (\c.west);
\foreach \a/\b in {r1/r1a,r1a/r1b,r1b/r1c,r1c/r1d} \draw[ln] (\a.east) -- (\b.west);

\draw[ln] (vm.east) -- (v1.west);
\foreach \a/\b in {v1/v2,v2/v3,v3/v4} \draw[ln] (\a.east) -- (\b.west);
\foreach \c in {vt1,t1} \draw[ln, lk=8] (v4.east) to (\c.west);
\foreach \c in {vt2,t2} \draw[ln, lk=8] (t1.east) to (\c.west);
\foreach \c in {vt3,t3} \draw[ln, lk=8] (t2.east) to (\c.west);
\foreach \c in {vt4,t4} \draw[ln, lk=8] (t3.east) to (\c.west);
\draw[vdash] (v4.south) .. controls +(0,12) and +(0,-12) .. (va.north);
\draw[vdash, -{Stealth[length=4pt,width=3pt]}] (va.south) .. controls +(0,10) and +(-12,0) .. (t1.west);
\draw[vdash] (v3.south) .. controls +(0,16) and +(0,-16) .. (vb.north);
\draw[vdash, -{Stealth[length=4pt,width=3pt]}] (vb.south) .. controls +(10,25) and +(-40,0) .. (t2.west);
\draw[vdash] (v2.south) .. controls +(0,30) and +(-4,-30) .. (vc.north);
\draw[vdash, -{Stealth[length=4pt,width=3pt]}] (vc.south) .. controls +(20,25) and +(-80,0) .. (t3.west);
\draw[vdash] (v1.south) .. controls +(0,45) and +(-10,-40) .. (vd.north);
\draw[vdash, -{Stealth[length=4pt,width=3pt]}] (vd.south) .. controls +(25,28) and +(-120,0) .. (t4.west);

\draw[ln] (sp.east) -- (spt.west);
\foreach \c in {sp1,sp3} \draw[ln, lk=8] (spt.east) to (\c.west);
\draw[ln] (sp1.east) -- (sp2.west);
\draw[ln] (sp3.east) -- (sp4.west);
\draw[brc] (2268,1230) -- (2268,1303);
\coordinate (bsp) at (2275,1266.5);
\draw[ln, line width=1pt] (bsp) -- (sloop.west);

\draw[ln] (spm.east) -- (p0.west);
\foreach \a/\b in {p0/p1,p1/p2,p2/p3,p3/p4,p4/p5} \draw[ln] (\a.east) -- (\b.west);

\foreach \c in {q1,q2,q3,q4} \draw[ln, lk=10] (ra.east) to (\c.west);
\foreach \a/\b in {q1/q1a,q2/q2a,q3/q3a,q4/q4a} \draw[ln] (\a.east) -- (\b.west);
\foreach \c in {sd1,sd2} \draw[ln, lk=10] (sd.east) to (\c.west);
\draw[ln] (st.east) -- (st1.west);
\foreach \c in {m1,m2} \draw[ln, lk=10] (som.east) to (\c.west);
\draw[ln] (m1.east) -- (m1a.west);
\foreach \c in {m21,m22,m23,m24} \draw[ln, lk=7] (m2.east) to (\c.west);
\foreach \a/\b in {m21/m21a,m22/m22a,m23/m23a,m24/m24a} \draw[ln] (\a.east) -- (\b.west);

\foreach \c in {k1,k2,k3,k4} \draw[ln, lk=10] (sqa.east) to (\c.west);
\foreach \a/\b in {k1/k1t,k2/k2t,k3/k3t,k4/k4t,k31/k31t,k32/k32t,k33/k33t,k34/k34t,k35/k35t} \draw[ln] (\a.east) -- (\b.west);
\foreach \c in {k31,k32,k33,k34,k35} \draw[ln, lk=12] (k3t.east) to (\c.west);
\foreach \c in {z1,z2} \draw[ln, lk=10] (sdt.east) to (\c.west);

\foreach \c in {am,mw} \draw[ln, lk=7] (arch.east) to (\c.west);
\foreach \c in {am1,am2,am3,am4,am5,am6} \draw[ln, lk=9] (am.east) to (\c.west);
\foreach \a/\b in {am1/am1t,am2/am2a,am3/am3a,am4/am4t,am5/am5a,am5a/cs,am6/am6a,c1/c2,c3/c4} \draw[ln] (\a.east) -- (\b.west);
\foreach \c in {c1,c3} \draw[ln, lk=8] (cs.east) to (\c.west);
\foreach \c in {c5,c6} \draw[ln, lk=7] (c4.east) to (\c.west);
\draw[brc, decoration={brace, amplitude=5pt}] (1828,2557) -- (1828,2575);
\coordinate (bc1) at (1834,2566);
\draw[ln, line width=1pt] (bc1) -- (c2s.west);
\draw[brc, decoration={brace, amplitude=6pt}] (1946,2594) -- (1946,2649);
\coordinate (bc2) at (1952,2621.5);
\draw[ln, line width=1pt] (bc2) -- (c6s.west);
\draw[ln] (mw.east) -- (mwt.west);
\foreach \c in {mw1,mw2,mw3,mw4,mw5} \draw[ln, lk=8] (mwt.east) to (\c.west);

\foreach \c in {ob,uml} \draw[ln, lk=7] (oo.east) to (\c.west);
\foreach \c in {o1,o2,o3,o4,o5,o6,o7,o8,o9} \draw[ln, lk=7] (ob.east) to (\c.west);
\draw[ln] (uml.east) -- (uf.west);
\foreach \c in {um1,um2,um3,um4} \draw[ln, lk=8] (uf.east) to (\c.west);

\foreach \c in {ws,je} \draw[ln, lk=8] (app.east) to (\c.west);
\foreach \c in {ws1,ws2} \draw[ln, lk=9] (ws.east) to (\c.west);
\foreach \c in {j1,j2,j3} \draw[ln, lk=9] (je.east) to (\c.west);
\foreach \c in {j11,j12} \draw[ln, lk=6] (j1.east) to (\c.west);
\draw[brc, decoration={brace, amplitude=8pt}] (1838,3562) -- (1838,3743);
\coordinate (bje) at (1846,3652.5);
\draw[ln, line width=1pt] (bje) -- (jsum.west);

% left connectors
\foreach \c in {lkd,lp} \draw[ln, lk=-8] (lc.west) to (\c.east);
\foreach \c in {l1,l2,l3,l4} \draw[ln, lk=-8] (lkd.west) to (\c.east);
\foreach \a/\b in {l1/l1t,l3/l3t,l4/l4t,l21/l21a,l21a/l21b,l22/l22a} \draw[ln] (\a.west) -- (\b.east);
\foreach \c in {l21,l22,l23,l24} \draw[ln, lk=-7] (l2.west) to (\c.east);
\foreach \c in {l22b,l22c} \draw[ln, lk=-9] (l22a.west) to (\c.east);

\draw[ln] (ld.west) -- (lm.east);
\foreach \c in {s1,s2,s3,s4} \draw[ln, lk=-8] (lm.west) to (\c.east);
\foreach \c in {s11,s12,s13} \draw[ln, lk=-7] (s1.west) to (\c.east);
\foreach \c in {s21,s22,s23} \draw[ln, lk=-7] (s2.west) to (\c.east);
\foreach \c in {s31,s32,s33} \draw[ln, lk=-7] (s3.west) to (\c.east);
\foreach \a/\b in {s11/s11t,s12/s12t,s21/s21t,s31/s31t} \draw[ln] (\a.west) -- (\b.east);
\foreach \c in {s131,s132,s133} \draw[ln, lk=-8] (s13.west) to (\c.east);
\foreach \c in {s221,s222,s223} \draw[ln, lk=-9] (s22.west) to (\c.east);
\foreach \c in {s231,s232,s233} \draw[ln, lk=-11] (s23.west) to (\c.east);
\foreach \c in {s321,s322} \draw[ln, lk=-10] (s32.west) to (\c.east);
\foreach \c in {s331,s332} \draw[ln, lk=-11] (s33.west) to (\c.east);

\foreach \c in {g1,g2,g3,g4} \draw[ln, lk=-10] (lsd.west) to (\c.east);
\foreach \a/\b in {g1/g1t,g3/g3t,g4/g4t} \draw[ln] (\a.west) -- (\b.east);
\foreach \c in {g21,g22} \draw[ln, lk=-8] (g2.west) to (\c.east);

% watermark
\foreach \wx/\wy [count=\k] in {639/511, 1916/511, 639/1518, 1916/1518, 639/2494, 1916/2494, 639/3506, 1916/3506}
  \node[wmark] (wm\k) at (\wx,\wy) {树图 {\wmlatin\itshape shutu.cn}};
\end{tikzpicture}
\end{document}
